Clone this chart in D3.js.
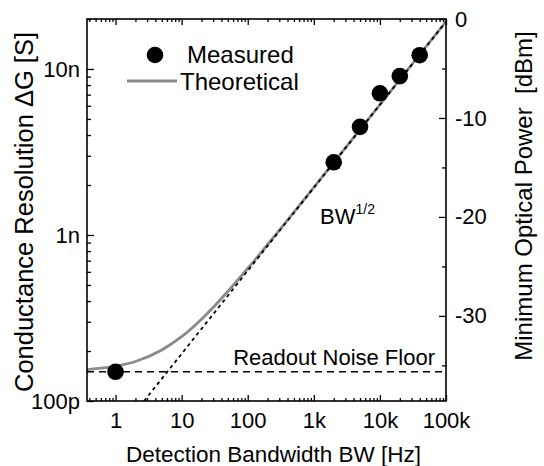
<!DOCTYPE html>
<html>
<head>
<meta charset="utf-8">
<script src="https://cdn.jsdelivr.net/npm/d3@7"></script>
<style>
body { margin: 0; background: #fff; }
text { font-family: "Liberation Sans", Arial, sans-serif; fill: #000; }
</style>
</head>
<body>
<div id="chart"></div>
<script>
// ---------- data ----------
var bwTicks = [1, 10, 100, 1000, 10000, 100000];
var bwTickLabels = ["1", "10", "100", "1k", "10k", "100k"];
var gTicks = [1e-10, 1e-9, 1e-8];
var gTickLabels = ["100p", "1n", "10n"];
var pTicks = [0, -10, -20, -30];
var pMinorTicks = [-5, -15, -25, -35];

// measured points
var measuredBW = [1, 2000, 5000, 10000, 20000, 40000];
var measuredG = [1.5e-10, 2.74e-9, 4.48e-9, 7.14e-9, 9.05e-9, 1.21e-8];

// theoretical curve, points
var theoryBW = [0.37, 1, 2, 5, 10, 20, 50, 100, 300, 1000, 10000, 100000];
var theoryG = [1.545e-10, 1.62e-10, 1.73e-10, 2.03e-10, 2.44e-10, 3.11e-10, 4.57e-10, 6.28e-10, 1.067e-9, 1.935e-9, 6.1e-9, 1.93e-8];

// BW^1/2 asymptote (dotted) and readout noise floor (dashed)
var slopeBW = [2.7, 100000];
var slopeG = [1e-10, 1.925e-8];
var floorG = 1.5e-10;

function init() {
    var W = 544, H = 466;
    var left = 87, right = 446, top = 19, bottom = 401;

    var svg = d3.select("#chart").append("svg")
        .attr("width", W)
        .attr("height", H);

    var x = d3.scaleLog().domain([0.37, 100000]).range([left, right]);
    var y = d3.scaleLog().domain([1e-10, 2e-8]).range([bottom, top]);
    var yP = d3.scaleLinear().domain([-38.6, 0]).range([bottom, top]);

    var xMinor = x.ticks().filter(function(d) { return bwTicks.indexOf(d) < 0; });
    var yMinor = y.ticks().filter(function(d) {
        return !gTicks.some(function(g) { return Math.abs(g - d) / g < 1e-6; });
    });

    svg.append("clipPath").attr("id", "plotclip")
        .append("rect")
        .attr("x", left).attr("y", top)
        .attr("width", right - left).attr("height", bottom - top);

    var plot = svg.append("g").attr("clip-path", "url(#plotclip)");

    // theoretical grey curve
    var theory = theoryBW.map(function(d, i) { return [d, theoryG[i]]; });
    plot.append("path")
        .datum(theory)
        .attr("d", d3.line()
            .x(function(d) { return x(d[0]); })
            .y(function(d) { return y(d[1]); })
            .curve(d3.curveMonotoneX))
        .attr("fill", "none")
        .attr("stroke", "#8a8a8a")
        .attr("stroke-width", 2.8);

    // noise floor
    plot.append("line")
        .attr("x1", x(0.37)).attr("x2", x(100000))
        .attr("y1", y(floorG)).attr("y2", y(floorG))
        .attr("stroke", "#000")
        .attr("stroke-width", 1.5)
        .attr("stroke-dasharray", "7,5");

    // BW^1/2 slope
    plot.append("line")
        .attr("x1", x(slopeBW[0])).attr("y1", y(slopeG[0]))
        .attr("x2", x(slopeBW[1])).attr("y2", y(slopeG[1]))
        .attr("stroke", "#000")
        .attr("stroke-width", 1.8)
        .attr("stroke-dasharray", "3.5,3.5");

    // measured points
    svg.selectAll("circle.meas")
        .data(measuredBW)
        .enter()
        .append("circle")
        .attr("class", "meas")
        .attr("cx", function(d) { return x(d); })
        .attr("cy", function(d, i) { return y(measuredG[i]); })
        .attr("r", 8.3)
        .attr("fill", "#000");

    // ---------- axes ----------
    var fmtX = function(d) { return bwTickLabels[bwTicks.indexOf(d)]; };
    var fmtY = function(d) {
        for (var i = 0; i < gTicks.length; i++) {
            if (Math.abs(gTicks[i] - d) / d < 1e-6) return gTickLabels[i];
        }
        return "";
    };

    function styleAxis(g, size) {
        g.select(".domain").remove();
        g.selectAll(".tick line").attr("stroke", "#000").attr("stroke-width", 1.3);
        g.selectAll("text").style("font-size", size + "px")
            .style("font-family", "'Liberation Sans', Arial, sans-serif")
            .attr("fill", "#000");
    }

    // bottom
    svg.append("g").attr("transform", "translate(0," + bottom + ")")
        .call(d3.axisBottom(x).tickValues(bwTicks).tickFormat(fmtX)
            .tickSizeInner(-6).tickSizeOuter(0).tickPadding(11))
        .call(styleAxis, 22);
    svg.append("g").attr("transform", "translate(0," + bottom + ")")
        .call(d3.axisBottom(x).tickValues(xMinor).tickFormat("")
            .tickSizeInner(-3).tickSizeOuter(0))
        .call(styleAxis, 22);
    // top
    svg.append("g").attr("transform", "translate(0," + top + ")")
        .call(d3.axisTop(x).tickValues(bwTicks).tickFormat("")
            .tickSizeInner(-6).tickSizeOuter(0))
        .call(styleAxis, 22);
    svg.append("g").attr("transform", "translate(0," + top + ")")
        .call(d3.axisTop(x).tickValues(xMinor).tickFormat("")
            .tickSizeInner(-3).tickSizeOuter(0))
        .call(styleAxis, 22);
    // left
    svg.append("g").attr("transform", "translate(" + left + ",0)")
        .call(d3.axisLeft(y).tickValues(gTicks).tickFormat(fmtY)
            .tickSizeInner(-7).tickSizeOuter(0).tickPadding(7))
        .call(styleAxis, 22);
    svg.append("g").attr("transform", "translate(" + left + ",0)")
        .call(d3.axisLeft(y).tickValues(yMinor).tickFormat("")
            .tickSizeInner(-4).tickSizeOuter(0))
        .call(styleAxis, 22);
    // right
    svg.append("g").attr("transform", "translate(" + right + ",0)")
        .call(d3.axisRight(yP).tickValues(pTicks)
            .tickFormat(function(d) { return String(d); })
            .tickSizeInner(-7).tickSizeOuter(0).tickPadding(9))
        .call(styleAxis, 22);
    svg.append("g").attr("transform", "translate(" + right + ",0)")
        .call(d3.axisRight(yP).tickValues(pMinorTicks).tickFormat("")
            .tickSizeInner(-4).tickSizeOuter(0))
        .call(styleAxis, 22);

    // frame
    svg.append("rect")
        .attr("x", left).attr("y", top)
        .attr("width", right - left).attr("height", bottom - top)
        .attr("fill", "none")
        .attr("stroke", "#000")
        .attr("stroke-width", 1.6);

    // axis titles
    svg.append("text")
        .attr("x", (left + right) / 2 + 7).attr("y", 462)
        .attr("text-anchor", "middle")
        .style("font-size", "22.5px")
        .text("Detection Bandwidth BW [Hz]");

    svg.append("text")
        .attr("transform", "translate(33," + 212 + ") rotate(-90)")
        .attr("text-anchor", "middle")
        .style("font-size", "25.5px")
        .text("Conductance Resolution \u0394G [S]");

    svg.append("text")
        .attr("transform", "translate(532," + 196 + ") rotate(-90)")
        .attr("text-anchor", "middle")
        .attr("xml:space", "preserve")
        .style("font-size", "24px")
        .style("white-space", "pre")
        .text("Minimum Optical Power  [dBm]");

    // legend
    svg.append("circle").attr("cx", 155).attr("cy", 55).attr("r", 8.3).attr("fill", "#000");
    svg.append("text").attr("x", 187).attr("y", 63).style("font-size", "24px").text("Measured");
    svg.append("line").attr("x1", 127).attr("x2", 177).attr("y1", 81).attr("y2", 81)
        .attr("stroke", "#8a8a8a").attr("stroke-width", 2.8);
    svg.append("text").attr("x", 180).attr("y", 90).style("font-size", "24px").text("Theoretical");

    // annotations
    svg.append("text").attr("x", 435).attr("y", 365)
        .attr("text-anchor", "end")
        .style("font-size", "22px")
        .text("Readout Noise Floor");

    var bw = svg.append("text").attr("x", 320).attr("y", 224).style("font-size", "22px");
    bw.append("tspan").text("BW");
    bw.append("tspan").attr("dy", -10).style("font-size", "14px").text("1/2");
}

window.onload = init;
</script>
</body>
</html>
